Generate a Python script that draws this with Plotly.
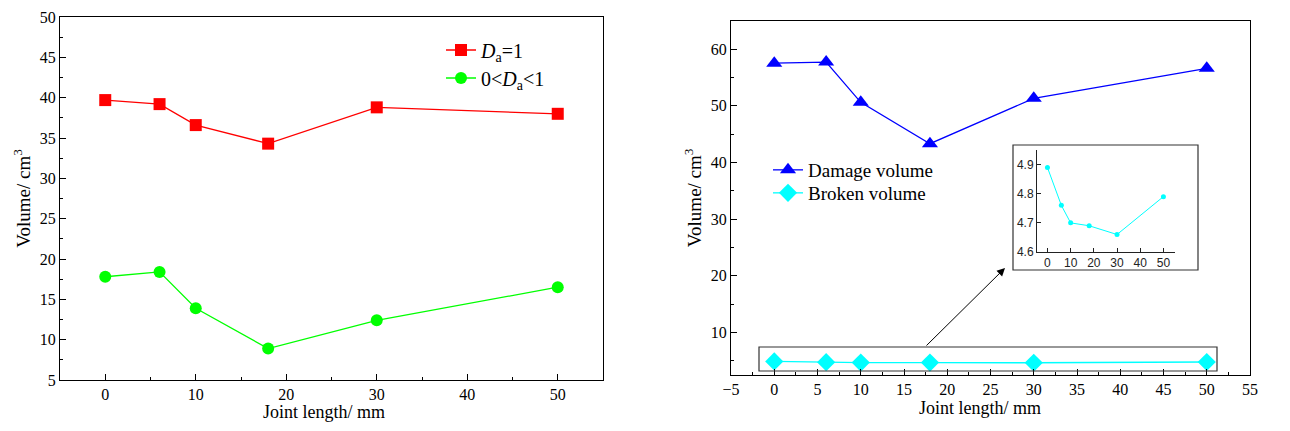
import plotly.graph_objects as go

joint_length = [0, 6, 10, 18, 30, 50]
da_one = [39.7, 39.2, 36.6, 34.3, 38.8, 38.0]
da_partial = [17.8, 18.4, 13.9, 8.9, 12.4, 16.5]
damage_volume = [57.5, 57.7, 50.6, 43.3, 51.3, 56.6]
broken_volume = [4.89, 4.76, 4.70, 4.69, 4.66, 4.79]

SERIF = "Liberation Serif"
SANS = "Liberation Sans"
PAGE_PAD = 8  # default body margin of the html page
W, H = 1290 - 2 * PAGE_PAD, 431 - 2 * PAGE_PAD


def px(x):
    return (x - PAGE_PAD) / W


def py(y):
    return (H - (y - PAGE_PAD)) / H


fig = go.Figure()

fig.add_trace(go.Scatter(x=joint_length, y=da_one, mode="lines+markers",
                         name="<i>D</i><sub>a</sub>=1",
                         line=dict(color="#FF0000", width=1.3),
                         marker=dict(symbol="square", size=12, color="#FF0000"),
                         xaxis="x", yaxis="y", legend="legend"))
fig.add_trace(go.Scatter(x=joint_length, y=da_partial, mode="lines+markers",
                         name="0&lt;<i>D</i><sub>a</sub>&lt;1",
                         line=dict(color="#00FF00", width=1.3),
                         marker=dict(symbol="circle", size=12, color="#00FF00"),
                         xaxis="x", yaxis="y", legend="legend2"))
fig.add_trace(go.Scatter(x=joint_length, y=damage_volume, mode="lines+markers",
                         name="Damage volume",
                         line=dict(color="#0000FF", width=1.3),
                         marker=dict(symbol="triangle-up", size=14, color="#0000FF"),
                         xaxis="x2", yaxis="y2", legend="legend3"))
fig.add_trace(go.Scatter(x=joint_length, y=broken_volume, mode="lines+markers",
                         name="Broken volume",
                         line=dict(color="#00FFFF", width=1.3),
                         marker=dict(symbol="diamond", size=14, color="#00FFFF"),
                         xaxis="x2", yaxis="y2", legend="legend4"))
fig.add_trace(go.Scatter(x=joint_length, y=broken_volume, mode="lines+markers",
                         showlegend=False,
                         line=dict(color="#00FFFF", width=1),
                         marker=dict(symbol="circle", size=5, color="#00FFFF"),
                         xaxis="x3", yaxis="y3"))

axis_common = dict(showline=True, linecolor="black", linewidth=1.2, mirror=True,
                   ticks="inside", ticklen=6, tickwidth=1, tickcolor="black",
                   showgrid=False, zeroline=False, automargin=False,
                   ticklabeloverflow="allow",
                   tickfont=dict(family=SERIF, size=16, color="black"))
title_font = dict(family=SERIF, size=19, color="black")
xtitle_font = dict(family=SERIF, size=18, color="black")
minor_style = dict(ticks="inside", ticklen=3, tickcolor="black", showgrid=False)


def legend_at(x, y, size):
    return dict(x=px(x), y=py(y), xanchor="left", yanchor="middle",
                bgcolor="rgba(0,0,0,0)", font=dict(family=SERIF, size=size, color="black"),
                tracegroupgap=0, itemwidth=30)


def x_title(x, y):
    return dict(x=px(x), y=py(y), xref="paper", yref="paper", xanchor="center",
                yanchor="middle", showarrow=False, text="Joint length/ mm", font=xtitle_font)


fig.update_layout(
    template="none",
    width=W, height=H,
    margin=dict(l=0, r=0, t=0, b=0),
    paper_bgcolor="white", plot_bgcolor="white",
    font=dict(family=SERIF, size=16, color="black"),
    xaxis=dict(domain=[px(60), px(603)], range=[-5, 55], tickvals=[0, 10, 20, 30, 40, 50],
               minor=dict(tickvals=[5, 15, 25, 35, 45], **minor_style),
               anchor="y", **axis_common),
    yaxis=dict(domain=[py(380), py(17)], range=[5, 50], dtick=5,
               minor=dict(dtick=2.5, **minor_style),
               title=dict(text="Volume/ cm<sup>3</sup>", font=title_font, standoff=4),
               anchor="x", **axis_common),
    xaxis2=dict(domain=[px(731), px(1250)], range=[-5, 55], dtick=5,
                minor=dict(dtick=2.5, **minor_style),
                anchor="y2", **axis_common),
    yaxis2=dict(domain=[py(375), py(20.7)], range=[2.5, 65], tickvals=[10, 20, 30, 40, 50, 60],
                minor=dict(dtick=5, **minor_style),
                title=dict(text="Volume/ cm<sup>3</sup>", font=title_font, standoff=4),
                anchor="x2", **axis_common),
    xaxis3=dict(domain=[px(1037), px(1175)], range=[-4.5, 55], tickvals=[0, 10, 20, 30, 40, 50],
                showline=True, linecolor="#222", linewidth=1, mirror=False,
                ticks="inside", ticklen=4, tickcolor="#222", showgrid=False, zeroline=False,
                automargin=False,
                tickfont=dict(family=SANS, size=12, color="#222"), anchor="y3"),
    yaxis3=dict(domain=[py(252), py(150)], range=[4.6, 4.95], tickvals=[4.6, 4.7, 4.8, 4.9],
                showline=True, linecolor="#222", linewidth=1, mirror=False,
                ticks="inside", ticklen=4, tickcolor="#222", showgrid=False, zeroline=False,
                automargin=False,
                tickfont=dict(family=SANS, size=12, color="#222"), anchor="x3"),
    legend=legend_at(441, 50, 20),
    legend2=legend_at(441, 78, 20),
    legend3=legend_at(768, 170, 19),
    legend4=legend_at(768, 193, 19),
    shapes=[
        dict(type="rect", xref="paper", yref="paper",
             x0=px(759), x1=px(1217), y0=py(371), y1=py(347),
             line=dict(color="#333", width=1.2)),
        dict(type="rect", xref="paper", yref="paper",
             x0=px(1013), x1=px(1198), y0=py(270), y1=py(145),
             line=dict(color="#333", width=1.2)),
    ],
    annotations=[
        x_title(324, 412),
        x_title(980, 408),
        dict(x=px(1005), y=py(268), xref="paper", yref="paper",
             ax=-80, ay=79, axref="pixel", ayref="pixel",
             text="", showarrow=True, arrowhead=2, arrowsize=1.6, arrowwidth=1,
             arrowcolor="black"),
    ],
)

fig.write_html("out.html")
